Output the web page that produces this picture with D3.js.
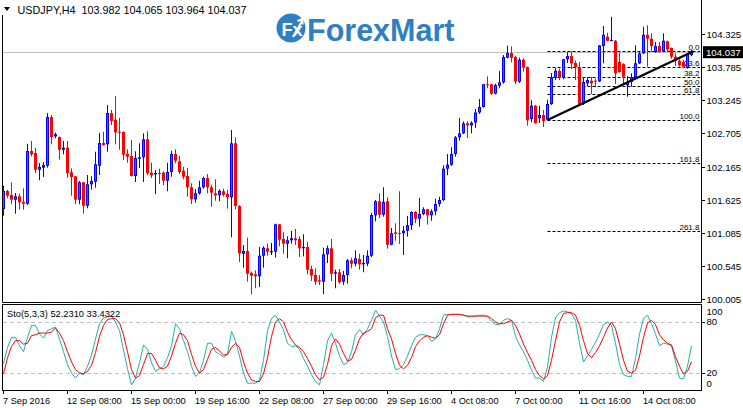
<!DOCTYPE html>
<html><head><meta charset="utf-8">
<script src="https://cdn.jsdelivr.net/npm/d3@7"></script>
<style>html,body{margin:0;padding:0;background:#fff;overflow:hidden}svg{display:block}text{font-family:"Liberation Sans",Arial,sans-serif}</style>
</head><body><svg id="c" width="743" height="408"></svg>
<script>
const symbol = "USDJPY,H4";
const openP = [101.475,101.769,101.703,101.627,101.682,101.589,101.562,102.420,102.387,102.115,
102.148,102.180,102.973,102.659,102.648,102.441,102.473,102.073,102.008,101.627,
101.910,101.529,101.878,101.920,102.180,102.550,102.529,103.038,102.929,102.734,
102.729,102.371,102.338,102.013,102.294,102.317,102.610,102.066,102.040,102.062,
102.066,101.936,102.078,102.371,102.252,102.099,102.013,101.829,101.633,101.731,
101.829,101.980,101.829,101.731,101.699,101.764,101.720,101.666,102.545,101.524,
100.748,100.792,100.434,100.412,100.380,100.715,100.836,100.787,100.780,101.226,
100.987,100.911,100.966,100.998,100.987,100.836,100.857,100.499,100.401,100.315,
100.292,100.738,100.836,100.422,100.445,100.292,100.401,100.640,100.585,100.662,
100.575,100.585,100.715,101.373,101.601,101.383,101.601,100.894,101.096,101.085,
101.080,101.122,101.210,101.427,101.318,101.394,101.471,101.373,101.438,101.557,
101.622,102.132,102.197,102.371,102.643,102.708,102.871,102.838,102.884,103.047,
103.136,103.506,103.506,103.353,103.483,103.538,103.939,104.015,103.950,103.548,
103.906,103.787,102.941,103.157,102.952,103.006,102.930,103.185,103.608,103.727,
103.620,103.913,103.966,103.852,103.779,103.193,103.522,103.564,103.564,103.554,
104.129,104.281,104.215,104.215,103.869,103.836,103.489,103.543,103.620,103.848,
104.010,104.313,104.248,104.031,104.129,104.043,104.206,104.097,103.955,103.890,
103.869,103.771,103.982];
const highP = [101.855,101.785,101.910,101.736,101.725,101.813,102.534,102.583,102.473,102.224,
102.241,103.038,103.006,102.718,102.656,102.583,102.583,102.138,102.015,101.931,
101.915,102.029,102.008,102.408,102.713,102.734,103.169,103.092,103.315,102.962,
102.740,102.447,102.599,102.415,102.545,102.708,102.740,102.229,102.110,102.132,
102.089,102.229,102.425,102.447,102.338,102.164,102.143,101.894,101.796,101.936,
102.001,102.045,101.871,101.959,101.796,101.806,101.785,102.762,102.643,101.536,
100.889,101.008,100.455,100.478,100.857,100.868,100.911,100.922,101.235,101.230,
101.096,101.031,101.117,101.150,101.031,101.064,100.943,100.552,100.510,100.401,
100.845,100.878,100.987,100.487,100.499,100.466,100.662,100.683,100.803,100.748,
100.727,100.803,101.410,101.622,101.731,101.829,101.666,101.166,101.243,101.764,
101.199,101.362,101.438,101.438,101.655,101.503,101.478,101.471,101.643,101.676,
102.187,102.371,102.480,102.664,102.957,102.903,102.903,102.903,103.104,103.266,
103.511,103.636,103.515,103.515,103.722,103.983,104.134,104.124,103.971,103.939,
103.929,103.795,103.245,103.169,103.157,103.087,103.258,103.690,103.771,103.760,
103.918,104.031,104.043,103.893,103.869,103.624,103.620,103.629,103.597,104.145,
104.455,104.346,104.606,104.227,104.020,103.848,103.641,103.685,104.140,104.031,
104.443,104.466,104.336,104.194,104.194,104.336,104.219,104.105,104.010,103.922,
103.901,104.010,104.065];
const lowP = [101.366,101.650,101.552,101.399,101.464,101.464,101.541,102.333,102.062,101.943,
101.996,102.148,102.529,102.627,102.278,102.366,101.985,101.692,101.552,101.552,
101.399,101.487,101.790,101.822,102.029,102.506,102.408,102.843,102.529,102.441,
102.273,102.229,102.005,101.915,102.143,101.915,102.024,101.980,101.720,101.883,
101.861,101.764,102.001,102.220,102.045,101.959,101.676,101.557,101.578,101.708,
101.806,101.731,101.513,101.611,101.601,101.676,101.480,101.015,101.471,100.613,
100.520,100.292,100.087,100.185,100.206,100.520,100.715,100.727,100.683,100.868,
100.748,100.673,100.911,100.889,100.694,100.705,100.412,100.303,100.238,100.238,
100.087,100.596,100.303,100.185,100.259,100.238,100.259,100.510,100.543,100.487,
100.445,100.543,100.694,101.275,101.329,101.350,100.829,100.885,100.959,100.906,
100.727,101.025,101.134,101.243,101.187,101.373,101.220,101.285,101.373,101.513,
101.601,102.024,102.176,102.327,102.587,102.697,102.631,102.708,102.794,103.022,
103.125,103.441,103.331,103.343,103.441,103.515,103.929,103.864,103.506,103.527,
103.711,102.832,102.887,102.864,102.876,102.810,102.915,103.169,103.576,103.576,
103.587,103.852,103.755,103.576,103.169,103.169,103.478,103.348,103.457,103.543,
103.848,104.206,104.206,103.511,103.694,103.511,103.304,103.467,103.597,103.836,
103.999,103.792,104.031,104.020,104.020,104.031,104.031,103.922,103.804,103.792,
103.771,103.760,103.964];
const closeP = [101.769,101.692,101.627,101.682,101.585,101.562,102.420,102.366,102.115,102.159,
102.192,102.973,102.648,102.692,102.441,102.473,102.062,101.996,101.627,101.910,
101.529,101.878,101.931,102.203,102.550,102.517,103.038,102.908,102.724,102.718,
102.360,102.327,102.013,102.306,102.317,102.610,102.057,102.024,102.062,102.050,
101.936,102.078,102.371,102.262,102.078,102.001,101.829,101.633,101.731,101.829,
101.980,101.829,101.741,101.699,101.773,101.708,101.666,102.545,101.524,100.754,
100.792,100.422,100.390,100.380,100.715,100.845,100.780,100.787,101.226,100.976,
100.911,100.966,100.998,100.966,100.836,100.857,100.487,100.390,100.292,100.292,
100.738,100.836,100.422,100.445,100.282,100.401,100.640,100.585,100.673,100.575,
100.596,100.715,101.378,101.601,101.383,101.589,100.894,101.080,101.073,101.073,
101.122,101.210,101.427,101.318,101.394,101.471,101.373,101.438,101.557,101.622,
102.132,102.197,102.371,102.643,102.708,102.871,102.838,102.880,103.047,103.136,
103.506,103.494,103.353,103.494,103.538,103.950,104.015,103.939,103.548,103.906,
103.776,102.920,103.157,102.876,103.006,102.908,103.185,103.616,103.727,103.620,
103.913,103.966,103.848,103.787,103.185,103.543,103.576,103.522,103.554,104.140,
104.313,104.215,104.227,103.685,103.706,103.629,103.543,103.620,103.848,104.010,
104.313,104.248,104.129,104.129,104.031,104.215,104.075,103.955,103.890,103.815,
103.792,103.999,104.037];
const stochK = [31,50,62,62,52,45,62,76,76,66, 61,70,72,74,60,45,30,20,14,20,
18,28,41,60,78,85,86,87,80,70, 47,25,6,14,32,53,48,32,22,25,
28,38,52,78,72,58,45,28,16,20, 35,55,55,45,42,39,42,69,58,40,
20,8,8,8,12,35,70,84,88,80, 71,55,51,52,48,37,28,18,10,6,
30,58,67,55,40,30,32,45,65,71, 65,72,82, 94,87,80,63,40,24,25,30,
40,52,62,65,65,64,57,60,72,88, 89,89,89,89,88,86,86,87,88,88,
86,81,77,77,82,84,82,63,53,45, 35,24,14,14,10,27,62,85,91,93,
92,90,82,55,33,40,48,56,66,77, 80,76,55,30,18,16,16,37,66,84,
88,78,66,52,55,54,52,34,14,13, 28,52.231];
const stochD = [19,38,51,58,58,54,55,64,65,67, 67,67,68,73,67,58,45,33,24,20,
19,22,29,44,63,76,83,84,84,79, 65,45,24,14,17,30,43,43,35,26,
25,28,40,55,67,65,58,42,28,20, 24,36,48,50,46,41,42,50,55,50,
33,20,12,10,10,19,38,63,80,84, 80,68,59,53,50,45,37,28,18,12,
15,30,52,60,54,43,34,36,47,60, 67,69,72,85,88,88,72,60,43,29,
25,29,38,51,58,62,64,62,61,65, 78,88,89,89,89,88,87,87,87,87,
87,87,84,80,78,78,80,82,76,66, 54,44,35,24,17,13,17,35,58,80,
90,91,91,88,76,58,43,38,44,52, 62,73,80,72,54,35,22,20,23,40,
62,79,82,77,65,59,55,53,39,28, 19,22,33.432];
const stochHeader = ["52.2310","33.4322"];
const priceTicks = [104.325,103.785,103.245,102.705,102.165,101.625,101.085,100.545,100.005];
const stochTicks = [100,80,20,0];
const stochLevels = [80,20];
const timeLabels = ["7 Sep 2016","12 Sep 08:00","15 Sep 00:00","19 Sep 16:00","22 Sep 08:00","27 Sep 00:00","29 Sep 16:00","4 Oct 08:00","7 Oct 00:00","11 Oct 16:00","14 Oct 08:00"];
const timeLabelBar = [0,16,32,48,64,80,96,112,128,144,160];
const fibLevels = [0,23.6,38.2,50,61.8,100,161.8,261.8];
const fibLabels = ["0.0","23.6","38.2","50.0","61.8","100.0","161.8","261.8"];
const fibHigh = 104.045, fibLow = 102.924, fibStartBar = 136;
const trendStart = [136, 102.924], trendEnd = [172.5, 104.045];
const bidPrice = 104.037;

const n = openP.length;
const svg = d3.select("#c");
const x = d3.scaleLinear().domain([0, 172]).range([3.5, 691.5]);
const y = d3.scaleLinear().domain([100.005, 104.325]).range([299.3, 34]);
const ys = d3.scaleLinear().domain([0, 100]).range([390, 305]);
const fmt = d3.format(".3f");

const defs = svg.append("defs");
defs.append("clipPath").attr("id","cm").append("rect").attr("x",3).attr("y",0).attr("width",698).attr("height",302);
defs.append("clipPath").attr("id","cs").append("rect").attr("x",3).attr("y",305).attr("width",698).attr("height",85);

// frames
svg.append("line").attr("x1",2.5).attr("x2",2.5).attr("y1",15).attr("y2",302.5).attr("stroke","#000");
svg.append("line").attr("x1",701.5).attr("x2",701.5).attr("y1",0).attr("y2",302.5).attr("stroke","#000");
svg.append("line").attr("x1",2.5).attr("x2",701.5).attr("y1",302.5).attr("y2",302.5).attr("stroke","#000");
svg.append("rect").attr("x",2.5).attr("y",304.5).attr("width",699).attr("height",86).attr("fill","none").attr("stroke","#000");

// logo
const logo = svg.append("g");
logo.append("circle").attr("cx",291).attr("cy",28).attr("r",14.5).attr("fill","#2f7fc2");
logo.append("text").attr("x",281.5).attr("y",35.5).attr("fill","#fff").attr("font-size",18).attr("font-weight","bold").text("Fx");
logo.append("path").attr("d","M293,37 L302,21 M297.5,21 L302.5,19 L302.5,24.5").attr("stroke","#fff").attr("stroke-width",2).attr("fill","none");
logo.append("text").attr("x",307).attr("y",41).attr("fill","#2f7fc2").attr("font-size",30.5).attr("font-weight","bold").text("ForexMart");

const main = svg.append("g").attr("clip-path","url(#cm)");
// bid line
main.append("line").attr("x1",3).attr("x2",701).attr("y1",Math.round(y(bidPrice))+0.5).attr("y2",Math.round(y(bidPrice))+0.5).attr("stroke","#c0c0c0");
// fib
const fibPrice = l => fibHigh - (fibHigh - fibLow) * l / 100;
fibLevels.forEach((l, k) => {
  const yy = Math.round(y(fibPrice(l))) + 0.5;
  main.append("line").attr("x1", x(fibStartBar)).attr("x2", 700).attr("y1", yy).attr("y2", yy)
    .attr("stroke","#000").attr("stroke-dasharray","3,2");
  main.append("text").attr("x",699.5).attr("y",yy-1.5).attr("text-anchor","end").attr("font-size",8).attr("fill","#000").text(fibLabels[k]);
});
// candles
const idx = d3.range(n);
const col = i => closeP[i] > openP[i] ? "#0000ff" : (closeP[i] < openP[i] ? "#ff0000" : "#000");
main.selectAll(".wick").data(idx).join("line")
  .attr("x1", i => x(i)).attr("x2", i => x(i))
  .attr("y1", i => y(highP[i])).attr("y2", i => y(lowP[i]))
  .attr("stroke", col).attr("stroke-width",1);
idx.forEach(i => {
  const top = y(Math.max(openP[i], closeP[i])), bot = y(Math.min(openP[i], closeP[i]));
  const h = Math.max(bot - top, 1);
  main.append("rect").attr("x", x(i)-1.5).attr("width",3).attr("y", top).attr("height", h).attr("fill", col(i));
  if (closeP[i] > openP[i] && h > 2.5) {
    main.append("rect").attr("x", x(i)-0.5).attr("width",1).attr("y", top+1).attr("height", h-2).attr("fill","#1e6eff");
  }
});
// trend line
main.append("line").attr("x1", x(trendStart[0])).attr("y1", y(trendStart[1]))
  .attr("x2", x(trendEnd[0])).attr("y2", y(trendEnd[1])).attr("stroke","#000").attr("stroke-width",2.2);

// header
svg.append("path").attr("d","M4,7 L10,7 L7,11 Z").attr("fill","#000");
svg.append("text").attr("x",17.5).attr("y",13.5).attr("font-size",10.8).attr("fill","#000").attr("xml:space","preserve")
  .style("white-space","pre")
  .text(symbol + "  " + fmt(openP[n-1]) + " " + fmt(highP[n-1]) + " " + fmt(lowP[n-1]) + " " + fmt(closeP[n-1]));

// price axis
priceTicks.forEach(v => {
  const yy = Math.round(y(v)) + 0.5;
  svg.append("line").attr("x1",701.5).attr("x2",705).attr("y1",yy).attr("y2",yy).attr("stroke","#000");
  svg.append("text").attr("x",706.5).attr("y",yy).attr("dy","0.35em").attr("font-size",9.6).attr("fill","#000").text(fmt(v));
});
const by = y(bidPrice);
svg.append("rect").attr("x",703).attr("y",by-5.5).attr("width",40).attr("height",12).attr("fill","#000");
svg.append("text").attr("x",706).attr("y",by+0.5).attr("dy","0.35em").attr("font-size",9.6).attr("fill","#fff").text(fmt(bidPrice));

// stochastic
const sub = svg.append("g").attr("clip-path","url(#cs)");
stochLevels.forEach(v => {
  sub.append("line").attr("x1",3).attr("x2",701).attr("y1",Math.round(ys(v))+0.5).attr("y2",Math.round(ys(v))+0.5)
    .attr("stroke","#c0c0c0").attr("stroke-dasharray","4,3");
});
const line = d3.line().x((d,i) => x(i)).y(d => ys(d));
sub.append("path").attr("d", line(stochK)).attr("fill","none").attr("stroke","#20b2aa").attr("stroke-width",1);
sub.append("path").attr("d", line(stochD)).attr("fill","none").attr("stroke","#ff0000").attr("stroke-width",1);
svg.append("text").attr("x",7).attr("y",316.5).attr("font-size",9.3).attr("fill","#000").text("Sto(5,3,3) " + stochHeader[0] + " " + stochHeader[1]);
stochTicks.forEach(v => {
  const yy = Math.min(Math.max(ys(v), 312), 384);
  if (v === 80 || v === 20) svg.append("line").attr("x1",701.5).attr("x2",705).attr("y1",Math.round(ys(v))+0.5).attr("y2",Math.round(ys(v))+0.5).attr("stroke","#000");
  svg.append("text").attr("x",706.5).attr("y",yy).attr("dy","0.35em").attr("font-size",9.6).attr("fill","#000").text(v);
});

// time axis
timeLabels.forEach((t, k) => {
  const xx = Math.floor(x(timeLabelBar[k])) + 0.5;
  svg.append("line").attr("x1",xx).attr("x2",xx).attr("y1",390.5).attr("y2",394).attr("stroke","#000");
  svg.append("text").attr("x",xx-0.5).attr("y",404).attr("font-size",9.2).attr("fill","#000").text(t);
});
</script></body></html>
